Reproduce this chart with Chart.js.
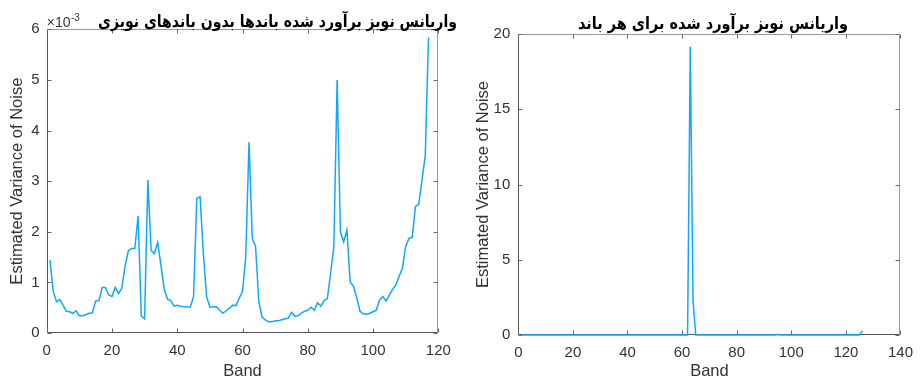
<!DOCTYPE html>
<html><head><meta charset="utf-8">
<script src="https://cdn.jsdelivr.net/npm/chart.js@4"></script>
<style>
html,body{margin:0;padding:0;background:#fff;}
#wrap{position:relative;width:922px;height:380px;overflow:hidden;background:#fff;}
.box{position:absolute;top:0;width:461px;height:380px;}
</style></head><body>
<div id="wrap">
  <div class="box" style="left:0"><canvas id="c1"></canvas></div>
  <div class="box" style="left:461px"><canvas id="c2"></canvas></div>
</div>
<script>
// ---------- data ----------
const leftTitle = "واریانس نویز برآورد شده باندها بدون باندهای نویزی";
const rightTitle = "واریانس نویز برآورد شده برای هر باند";
const xLabel = "Band";
const yLabel = "Estimated Variance of Noise";
const leftExponent = "-3";

// left panel: noise variance (x10^-3) for the 117 kept bands
const leftValuesE3 = [
  1.44,0.82,0.62,0.66,0.55,0.43,0.42,0.39,0.44,0.34,
  0.34,0.36,0.39,0.40,0.63,0.64,0.90,0.90,0.75,0.72,
  0.90,0.78,0.88,1.31,1.62,1.67,1.67,2.31,0.34,0.28,
  3.02,1.63,1.57,1.79,1.34,0.87,0.67,0.64,0.53,0.55,
  0.53,0.52,0.52,0.51,0.72,2.66,2.69,1.57,0.72,0.51,
  0.52,0.52,0.45,0.39,0.44,0.49,0.55,0.54,0.69,0.82,
  1.51,3.77,1.87,1.71,0.62,0.31,0.26,0.22,0.22,0.24,
  0.24,0.26,0.28,0.29,0.41,0.33,0.34,0.39,0.43,0.45,
  0.51,0.45,0.60,0.53,0.64,0.68,1.18,1.71,5.00,2.00,
  1.80,2.03,1.01,0.92,0.70,0.43,0.38,0.37,0.39,0.42,
  0.45,0.65,0.72,0.63,0.75,0.86,0.95,1.12,1.28,1.71,
  1.87,1.89,2.50,2.54,3.02,3.50,5.84
];

// right panel: noise variance for all 126 bands
const rightValues = [
  0,0,0,0,0,0,0,0,0,0,
  0,0,0,0,0,0,0,0,0,0,
  0,0,0,0,0,0,0,0,0,0,
  0,0,0,0,0,0,0,0,0,0,
  0,0,0,0,0,0,0,0,0,0,
  0,0,0,0,0,0,0,0,0,0,
  0,0,19.15,2.3,0,0,0,0,0,0,
  0,0,0,0,0,0,0,0,0,0,
  0,0,0,0,0,0,0,0,0,0,
  0,0,0,0,0.03,0,0,0,0,0,
  0,0,0,0,0,0,0,0,0,0,
  0,0,0,0,0,0,0,0,0,0,
  0,0,0,0,0,0.27
];

const leftXTicks = [0,20,40,60,80,100,120];
const leftYTicks = [0,1,2,3,4,5,6];
const rightXTicks = [0,20,40,60,80,100,120,140];
const rightYTicks = [0,5,10,15,20];

// ---------- styling ----------
const LINE_COLOR = 'rgb(18,168,250)';
const TEXT_COLOR = '#333333';
const TICK_FONT = {family:"'Liberation Sans', Arial, sans-serif", size:15};
const LABEL_FONT = {family:"'Liberation Sans', Arial, sans-serif", size:16.5, lineHeight:1};
const TITLE_FONT = "bold 17px 'DejaVu Sans', 'Liberation Sans', sans-serif";

function toPoints(vals){ return vals.map((v,i)=>({x:i+1,y:v})); }

function framePlugin(opts){
  return {
    id:'frame',
    beforeDatasetsDraw(chart){
      const {ctx, chartArea:a, scales:{x,y}} = chart;
      ctx.save();
      const L=Math.round(a.left)+0.5, R=Math.round(a.right)-0.5, T=Math.round(a.top)+0.5, B=Math.round(a.bottom)-0.5;
      ctx.lineWidth=1;
      ctx.strokeStyle='#9a9a9a';
      ctx.beginPath(); ctx.moveTo(L,T); ctx.lineTo(R,T); ctx.lineTo(R,B); ctx.stroke();
      ctx.strokeStyle='#555555';
      ctx.beginPath(); ctx.moveTo(L,T); ctx.lineTo(L,B); ctx.lineTo(R,B); ctx.stroke();
      const tl=4;
      ctx.strokeStyle='#666666';
      ctx.beginPath();
      x.ticks.forEach(t=>{
        const px=Math.round(x.getPixelForValue(t.value))+0.5;
        ctx.moveTo(px,B); ctx.lineTo(px,B-tl);
        ctx.moveTo(px,T); ctx.lineTo(px,T+tl);
      });
      y.ticks.forEach(t=>{
        const py=Math.round(y.getPixelForValue(t.value))+0.5;
        ctx.moveTo(L,py); ctx.lineTo(L+tl,py);
        ctx.moveTo(R,py); ctx.lineTo(R-tl,py);
      });
      ctx.stroke();
      ctx.restore();
    },
    afterDraw(chart){
      const {ctx, chartArea:a} = chart;
      ctx.save();
      ctx.fillStyle='#000';
      ctx.font=TITLE_FONT;
      ctx.textAlign='center';
      ctx.textBaseline='middle';
      const w=ctx.measureText(opts.title).width;
      const sx=opts.titleW/w;
      ctx.translate(opts.titleX, opts.titleY);
      ctx.scale(sx,1);
      ctx.fillText(opts.title, 0, 0);
      ctx.restore();
      if(opts.exponent){
        ctx.save();
        ctx.fillStyle=TEXT_COLOR;
        ctx.textAlign='left';
        ctx.textBaseline='middle';
        ctx.font="14px 'Liberation Sans', Arial, sans-serif";
        ctx.fillText('\u00d710', a.left, 23);
        const ew=ctx.measureText('\u00d710').width;
        ctx.font="10px 'Liberation Sans', Arial, sans-serif";
        ctx.fillText(opts.exponent, a.left+ew+0.5, 18);
        ctx.restore();
      }
    }
  };
}

function makeChart(id, vals, xTicks, yTicks, geom, plugOpts){
  const xmin=xTicks[0], xmax=xTicks[xTicks.length-1];
  const ymin=yTicks[0], ymax=yTicks[yTicks.length-1];
  return new Chart(document.getElementById(id), {
    type:'line',
    data:{datasets:[{data:toPoints(vals), borderColor:LINE_COLOR, borderWidth:1.5,
      pointRadius:0, tension:0, fill:false, clip:false}]},
    options:{
      responsive:true, maintainAspectRatio:false, animation:false,
      layout:{padding:{left:0, right:geom.padRight, top:geom.padTop, bottom:0}},
      plugins:{legend:{display:false}, tooltip:{enabled:false}, title:{display:false}},
      scales:{
        x:{type:'linear', min:xmin, max:xmax,
          afterBuildTicks:(s)=>{s.ticks=xTicks.map(v=>({value:v}));},
          grid:{display:false, drawTicks:false}, border:{display:false},
          ticks:{color:TEXT_COLOR, font:TICK_FONT, padding:geom.xTickPad, maxRotation:0, autoSkip:false},
          title:{display:true, text:xLabel, color:TEXT_COLOR, font:LABEL_FONT, padding:{top:0,bottom:geom.xTitlePad}},
          afterFit:(s)=>{s.height=geom.xAxisH;}
        },
        y:{type:'linear', min:ymin, max:ymax,
          afterBuildTicks:(s)=>{s.ticks=yTicks.map(v=>({value:v}));},
          grid:{display:false, drawTicks:false}, border:{display:false},
          ticks:{color:TEXT_COLOR, font:TICK_FONT, padding:geom.yTickPad, autoSkip:false},
          title:{display:true, text:yLabel, color:TEXT_COLOR, font:LABEL_FONT, padding:{top:geom.yTitlePad,bottom:0}},
          afterFit:(s)=>{s.width=geom.yAxisW;}
        }
      }
    },
    plugins:[framePlugin(plugOpts)]
  });
}

makeChart('c1', leftValuesE3, leftXTicks, leftYTicks,
  {padRight:22.7, padTop:29.3, xAxisH:47, yAxisW:46.7, xTickPad:9, yTickPad:7, xTitlePad:0.5, yTitlePad:9.5},
  {title:leftTitle, titleX:277.5, titleY:23, titleW:359, exponent:leftExponent});

makeChart('c2', rightValues, rightXTicks, rightYTicks,
  {padRight:15.3, padTop:34, xAxisH:45, yAxisW:57.3, xTickPad:9, yTickPad:8, xTitlePad:0.5, yTitlePad:14},
  {title:rightTitle, titleX:252, titleY:25, titleW:270, exponent:null});
</script>
</body></html>
